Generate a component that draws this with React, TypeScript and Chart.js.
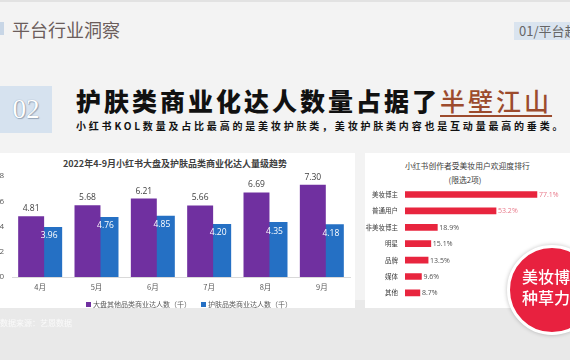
import React, { useEffect, useRef } from "react";
import { Chart, registerables } from "chart.js";

Chart.register(...registerables);

const months = ["4月", "5月", "6月", "7月", "8月", "9月"];
const otherCategoryKOL = [4.81, 5.68, 6.21, 5.66, 6.69, 7.3];
const skincareKOL = [3.96, 4.76, 4.85, 4.2, 4.35, 4.18];
const legendLabels = ["大盘其他品类商业达人数（千）", "护肤品类商业达人数（千）"];
const leftTitle = "2022年4-9月小红书大盘及护肤品类商业化达人量级趋势";

const creatorTypes = ["美妆博主", "普通用户", "非美妆博主", "明星", "品牌", "媒体", "其他"];
const popularity = [77.1, 53.2, 18.9, 15.1, 13.5, 9.6, 8.7];
const rightTitle = ["小红书创作者受美妆用户欢迎度排行", "(限选2项)"];

const CJK = "'Noto Sans CJK SC', 'Noto Sans', sans-serif";
const NUM = "'Open Sans', 'Noto Sans CJK SC', sans-serif";
const PURPLE = "#7030a0";
const BLUE = "#2570c4";
const RED = "#e8253e";

const barValuePlugin = {
  id: "barValues",
  afterDatasetsDraw(chart: any) {
    const ctx = chart.ctx;
    ctx.save();
    ctx.font = `8.5px ${NUM}`;
    ctx.textAlign = "center";
    ctx.textBaseline = "middle";
    chart.data.datasets.forEach((ds: any, di: number) => {
      const meta = chart.getDatasetMeta(di);
      meta.data.forEach((bar: any, i: number) => {
        const txt = Number(ds.data[i]).toFixed(2);
        if (di === 0) {
          ctx.fillStyle = "#404040";
          ctx.fillText(txt, bar.x, bar.y - 7.5);
        } else {
          ctx.fillStyle = "#ffffff";
          ctx.fillText(txt, bar.x, bar.y + 9);
        }
      });
    });
    ctx.restore();
  },
};

const hbarValuePlugin = {
  id: "hbarValues",
  afterDatasetsDraw(chart: any) {
    const ctx = chart.ctx;
    ctx.save();
    ctx.font = `7px ${NUM}`;
    ctx.textAlign = "left";
    ctx.textBaseline = "middle";
    const ds = chart.data.datasets[0];
    const meta = chart.getDatasetMeta(0);
    meta.data.forEach((bar: any, i: number) => {
      ctx.fillStyle = i < 2 ? "#e8798a" : "#505050";
      ctx.fillText(Number(ds.data[i]).toFixed(1) + "%", bar.x + 2, bar.y + 0.5);
    });
    ctx.restore();
  },
};

function LeftChart() {
  const ref = useRef<HTMLCanvasElement>(null);
  useEffect(() => {
    if (!ref.current) return;
    const chart = new Chart(ref.current, {
      type: "bar",
      data: {
        labels: months,
        datasets: [
          {
            label: legendLabels[0],
            data: otherCategoryKOL,
            backgroundColor: PURPLE,
            categoryPercentage: 0.64,
            barPercentage: 1.44,
          },
          {
            label: legendLabels[1],
            data: skincareKOL,
            backgroundColor: BLUE,
            categoryPercentage: 0.64,
            barPercentage: 1.44,
          },
        ],
      },
      options: {
        responsive: false,
        animation: false,
        devicePixelRatio: 1,
        layout: { padding: { top: 24, bottom: 15, left: 0, right: 8 } },
        plugins: {
          legend: { display: false },
          title: { display: false },
          tooltip: { enabled: false },
        },
        scales: {
          x: {
            grid: { display: false, drawTicks: false },
            border: { display: true, color: "#d9d9d9" },
            ticks: { color: "#595959", font: { size: 7.5, family: CJK }, padding: 6 },
            afterFit(s: any) {
              s.height = 20;
            },
          },
          y: {
            min: 0,
            max: 8,
            ticks: { stepSize: 2, color: "#595959", font: { size: 8, family: NUM }, padding: 8 },
            grid: { display: false, drawTicks: false },
            border: { display: false },
            afterFit(s: any) {
              s.width = 24;
            },
          },
        },
      } as any,
      plugins: [barValuePlugin],
    });
    return () => chart.destroy();
  }, []);
  return (
    <canvas
      ref={ref}
      width={370}
      height={160}
      style={{ position: "absolute", left: -12, top: 152, width: 370, height: 160 }}
    />
  );
}

function RightChart() {
  const ref = useRef<HTMLCanvasElement>(null);
  useEffect(() => {
    if (!ref.current) return;
    const chart = new Chart(ref.current, {
      type: "bar",
      data: {
        labels: creatorTypes,
        datasets: [
          {
            label: "欢迎度",
            data: popularity,
            backgroundColor: RED,
            barThickness: 6,
          },
        ],
      },
      options: {
        indexAxis: "y",
        responsive: false,
        animation: false,
        devicePixelRatio: 1,
        layout: { padding: { top: 34.3, bottom: 4.3, left: 0, right: 11 } },
        plugins: {
          legend: { display: false },
          title: { display: false },
          tooltip: { enabled: false },
        },
        scales: {
          x: { display: false, min: 0, max: 90 },
          y: {
            grid: { display: false, drawTicks: false },
            border: { display: false },
            ticks: { color: "#404040", font: { size: 6.5, family: CJK }, padding: 7 },
            afterFit(s: any) {
              s.width = 40;
            },
          },
        },
      } as any,
      plugins: [hbarValuePlugin],
    });
    return () => chart.destroy();
  }, []);
  return (
    <canvas
      ref={ref}
      width={205}
      height={160}
      style={{ position: "absolute", left: 365, top: 152, width: 205, height: 160 }}
    />
  );
}

export default function App() {
  const abs = (s: React.CSSProperties): React.CSSProperties => ({ position: "absolute", ...s });
  return (
    <div
      style={{
        position: "fixed",
        left: 0,
        top: 0,
        width: 570,
        height: 360,
        overflow: "hidden",
        background: "#f3f3f3",
        fontFamily: CJK,
      }}
    >
      {/* top rule */}
      <div style={abs({ left: 0, top: 0, width: 570, height: 2, background: "#e2e2e2" })} />
      {/* header */}
      <div style={abs({ left: 0, top: 22, width: 4, height: 13, background: "#c8d6e6" })} />
      <div
        style={abs({
          left: 12,
          top: 17,
          fontSize: 18,
          lineHeight: "24px",
          color: "#6b5d5b",
          whiteSpace: "nowrap",
        })}
      >
        平台行业洞察
      </div>
      <div
        style={abs({
          left: 514,
          top: 22,
          width: 70,
          height: 18,
          background: "#dae4ef",
          color: "#666",
          fontSize: 13,
          lineHeight: "18px",
          paddingLeft: 5,
          whiteSpace: "nowrap",
        })}
      >
        01/平台趋势
      </div>
      {/* 02 box */}
      <div
        style={abs({
          left: 0,
          top: 86,
          width: 52,
          height: 47,
          background: "#d6e2ef",
          color: "#fff",
          fontFamily: "'Liberation Serif', 'DejaVu Serif', serif",
          fontSize: 27,
          lineHeight: "47px",
          textAlign: "center",
          textShadow: "0 0 1px #7f8fa3, 1px 1px 1px #97a6b8",
        })}
      >
        02
      </div>
      {/* main title */}
      <div
        style={abs({
          left: 76,
          top: 85,
          fontSize: 25,
          lineHeight: "30px",
          fontWeight: 900,
          letterSpacing: 3,
          color: "#111",
          whiteSpace: "nowrap",
        })}
      >
        护肤类商业化达人数量占据了
        <span
          style={{
            color: "#9c4b2d",
            fontWeight: 500,
            textDecoration: "underline",
            textDecorationThickness: 2,
            textUnderlineOffset: 4,
          }}
        >
          半壁江山
        </span>
      </div>
      <div
        style={abs({
          left: 76,
          top: 119,
          fontSize: 10,
          lineHeight: "14px",
          fontWeight: 700,
          letterSpacing: 2.8,
          color: "#111",
          whiteSpace: "nowrap",
        })}
      >
        小红书KOL数量及占比最高的是美妆护肤类，美妆护肤类内容也是互动量最高的垂类。
      </div>
      {/* lower band */}
      <div style={abs({ left: 0, top: 300, width: 570, height: 60, background: "#e9e9e9" })} />
      {/* left panel */}
      <div style={abs({ left: 0, top: 153, width: 355, height: 155, background: "#fff" })} />
      <div
        style={abs({
          left: 0,
          top: 157,
          width: 350,
          textAlign: "center",
          fontSize: 9,
          lineHeight: "14px",
          fontWeight: 700,
          color: "#404040",
          whiteSpace: "nowrap",
        })}
      >
        {leftTitle}
      </div>
      <LeftChart />
      <div
        style={abs({
          left: 86,
          top: 298,
          fontSize: 7,
          lineHeight: "12px",
          color: "#595959",
          whiteSpace: "nowrap",
          display: "flex",
          alignItems: "center",
        })}
      >
        <span style={{ display: "inline-block", width: 5, height: 5, background: PURPLE, marginRight: 2 }} />
        <span>{legendLabels[0]}</span>
        <span
          style={{ display: "inline-block", width: 5, height: 5, background: BLUE, marginLeft: 10, marginRight: 2 }}
        />
        <span>{legendLabels[1]}</span>
      </div>
      <div
        style={abs({
          left: 0,
          top: 317,
          fontSize: 8,
          lineHeight: "12px",
          color: "#fafafa",
          whiteSpace: "nowrap",
        })}
      >
        数据来源：艺恩数据
      </div>
      {/* right panel */}
      <div style={abs({ left: 365, top: 153, width: 205, height: 155, background: "#fff" })} />
      <div
        style={abs({
          left: 405,
          top: 159,
          width: 120,
          textAlign: "center",
          fontSize: 7.8,
          lineHeight: "14px",
          color: "#404040",
          whiteSpace: "nowrap",
        })}
      >
        {rightTitle[0]}
        <br />
        {rightTitle[1]}
      </div>
      <RightChart />
      {/* red circle */}
      <div
        style={abs({
          left: 507,
          top: 245,
          width: 84,
          height: 84,
          borderRadius: "50%",
          background: "#e8213f",
          border: "3px solid #fff",
          boxShadow: "0 0 4px rgba(0,0,0,0.25)",
        })}
      />
      <div
        style={abs({
          left: 522,
          top: 266,
          fontSize: 16,
          lineHeight: "21px",
          color: "#fff",
          fontWeight: 500,
          whiteSpace: "nowrap",
          fontFamily: "'Noto Sans CJK SC', serif",
        })}
      >
        美妆博主
        <br />
        种草力强
      </div>
    </div>
  );
}
